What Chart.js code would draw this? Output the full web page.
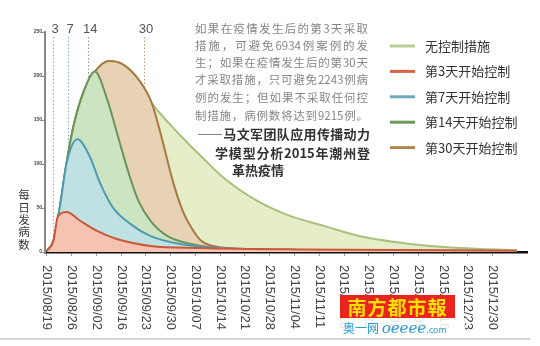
<!DOCTYPE html>
<html lang="zh-CN">
<head>
<meta charset="utf-8">
<script src="https://cdn.jsdelivr.net/npm/chart.js@4.4.1/dist/chart.umd.min.js"></script>
<style>
  html, body { margin: 0; padding: 0; background: #fff; }
  #wrap { position: relative; width: 540px; height: 346px; overflow: hidden; }
  #counterChart { position: absolute; left: 0; top: 0; }
  .note { position: absolute; left: 195px; width: 173px; font-family: "Noto Sans CJK SC"; font-size: 11.5px;
          color: #858585; line-height: 14px; text-align: justify; text-align-last: justify; white-space: nowrap; }
  .src { position: absolute; font-family: "Noto Sans CJK SC"; font-size: 13px; font-weight: bold; color: #333;
         line-height: 16px; text-align: justify; text-align-last: justify; white-space: nowrap; }
  #bottomLine { position: absolute; left: 0; top: 338px; width: 530px; height: 2px; background: #d4d4d4; }
  #logo { position: absolute; left: 340px; top: 295px; width: 115px; height: 23px; background: #e8241c;
          color: #ffe100; font-family: "Noto Sans CJK SC"; font-weight: bold; font-size: 19px; line-height: 23px;
          text-align: center; letter-spacing: 1px; }
  #site { position: absolute; left: 338px; top: 318px; width: 122px; height: 19px; background: rgba(255,255,255,0.85);
          color: #2a9bd3; font-family: "Noto Sans CJK SC"; font-size: 12px; line-height: 19px; padding-left: 5px; }
  #site i { font-family: "DejaVu Serif"; font-size: 15px; }
  #site small { font-size: 9px; }
</style>
</head>
<body>
<div id="wrap">
  <canvas id="counterChart" width="540" height="346"></canvas>

  <div class="note" style="top:21px">如果在疫情发生后的第3天采取</div>
  <div class="note" style="top:38px">措施，可避免6934例案例的发</div>
  <div class="note" style="top:55px">生；如果在疫情发生后的第30天</div>
  <div class="note" style="top:72px">才采取措施，只可避免2243例病</div>
  <div class="note" style="top:90px">例的发生；但如果不采取任何控</div>
  <div class="note" style="top:108px">制措施，病例数将达到9215例。</div>
  <div class="src" style="top:126px;left:197px;width:173px">——马文军团队应用传播动力</div>
  <div class="src" style="top:145px;left:215px;width:155px">学模型分析2015年潮州登</div>
  <div class="src" style="top:162px;left:232px">革热疫情</div>

  <div id="bottomLine"></div>
  <div id="logo">南方都市報</div>
  <div id="site">奥一网 <i>oeeee</i><small>.com</small></div>
</div>

<script>
// подписи по оси X (недели) и их положение в днях
var weekLabels = ['2015/08/19', '2015/08/26', '2015/09/02', '2015/09/16', '2015/09/23', '2015/09/30',
    '2015/10/07', '2015/10/14', '2015/10/21', '2015/10/28', '2015/11/04', '2015/11/11', '2015/11/18',
    '2015/11/25', '2015/12/02', '2015/12/09', '2015/12/16', '2015/12/23', '2015/12/30'];
var weekDays = [0, 7, 14, 21, 28, 35, 42, 49, 56, 63, 70, 77, 84, 91, 98, 105, 112, 119, 126];

var seriesNames = ['无控制措施', '第3天开始控制', '第7天开始控制', '第14天开始控制', '第30天开始控制'];

// без мер контроля
var noControlDays = [0, 1.9, 3.7, 5.6, 7.5, 10.4, 13.6, 17.5, 21.6, 26.3, 29.7, 32.8, 34.8, 40.5, 43.3, 49.8, 59.5, 68.7, 78.1, 88.5, 105.5, 116.7, 132.8];
var noControlValues = [1, 13, 51, 101, 142, 182, 205, 217, 213, 194, 169, 154, 145, 121, 110, 85, 58, 41, 30, 18, 8, 4.6, 2];

// контроль с 3-го дня
var day3Days = [0, 1.9, 3.1, 5.6, 9.4, 14.2, 19.8, 29.2, 43.3, 71.6, 132.8];
var day3Values = [1, 13, 40, 45.5, 35.5, 24, 14.7, 6.9, 4.6, 2.9, 1.5];

// контроль с 7-го дня
var day7Days = [0, 1.9, 3.7, 5.6, 8.7, 12.2, 15.1, 18.7, 23.6, 29.2, 37.7, 48.9, 71.6, 132.8];
var day7Values = [1, 13, 51, 101, 128, 108, 78, 50.5, 32, 18.3, 9, 4.6, 2.3, 1];

// контроль с 14-го дня
var day14Days = [0, 1.9, 3.7, 5.6, 7.5, 10.4, 13.6, 17.1, 20.0, 23.2, 25.9, 29.5, 34.0, 40.5, 51.8, 71.6, 132.8];
var day14Values = [1, 13, 51, 101, 142, 182, 205, 173, 133, 89, 58, 34.5, 18.3, 9.3, 3.4, 2.3, 1];

// контроль с 30-го дня
var day30Days = [0, 1.9, 3.7, 5.6, 7.5, 10.4, 13.6, 17.5, 21.6, 26.3, 29.7, 32.4, 35.8, 38.6, 40.5, 43.3, 49.6, 57.2, 71, 98.6, 132.8];
var day30Values = [1, 13, 51, 101, 142, 182, 205, 217, 213, 194, 169, 131, 78, 45, 30, 14, 5, 3, 2, 1, 0.5];

// вертикальные пунктирные отметки
var markerLabels = ['3', '7', '14', '30'];
var markerDays = [1.8, 6.0, 11.7, 27.5];
var markerColors = ['#e4927c', '#7db3c6', '#8fa282', '#bb9c74'];

var lineColors = ['#a9c07c', '#c9573a', '#4e9bb0', '#6a9458', '#a67a40'];
var fillColors = ['#e6edc9', '#f5c3b2', '#bfe1e1', '#cde4c3', '#e8d2b6'];
var legendColors = ['#b8cc94', '#d96446', '#6aaabb', '#6a9a5c', '#b0884e'];

function pts(days, values) {
    return days.map(function (d, i) { return {x: d, y: values[i]}; });
}

var allDays = [noControlDays, day3Days, day7Days, day14Days, day30Days];
var allValues = [noControlValues, day3Values, day7Values, day14Values, day30Values];
var drawOrder = [4, 0, 1, 2, 3];

var datasets = seriesNames.map(function (name, i) {
    return {
        label: name,
        data: pts(allDays[i], allValues[i]),
        borderColor: lineColors[i],
        backgroundColor: fillColors[i],
        borderWidth: 2,
        fill: 'origin',
        pointRadius: 0,
        cubicInterpolationMode: 'monotone',
        order: drawOrder[i]
    };
});

var markerPlugin = {
    id: 'markers',
    beforeDatasetsDraw: function (chart) {
        var ctx = chart.ctx, xs = chart.scales.x, area = chart.chartArea;
        ctx.save();
        ctx.setLineDash([1.5, 2]);
        ctx.lineWidth = 1;
        markerDays.forEach(function (d, i) {
            var px = Math.round(xs.getPixelForValue(d)) + 0.5;
            ctx.strokeStyle = markerColors[i];
            ctx.beginPath();
            ctx.moveTo(px, 37);
            ctx.lineTo(px, area.bottom);
            ctx.stroke();
        });
        ctx.restore();
    },
    afterDraw: function (chart) {
        var ctx = chart.ctx, xs = chart.scales.x;
        ctx.save();
        // цифры над отметками
        ctx.font = '13px "Liberation Sans", Arial';
        ctx.fillStyle = '#555';
        ctx.textAlign = 'center';
        ctx.textBaseline = 'middle';
        markerDays.forEach(function (d, i) {
            ctx.fillText(markerLabels[i], xs.getPixelForValue(d) + 2, 29);
        });

        // подписи оси X, повернутые по часовой стрелке
        ctx.font = '13px "Liberation Sans", Arial';
        ctx.fillStyle = '#444';
        ctx.textAlign = 'left';
        weekDays.forEach(function (d, i) {
            ctx.save();
            ctx.translate(xs.getPixelForValue(d), 265);
            ctx.rotate(Math.PI / 2);
            ctx.fillText(weekLabels[i], 0, 0);
            ctx.restore();
        });

        // заголовок оси Y столбиком
        ctx.font = '11.5px "Noto Sans CJK SC"';
        ctx.fillStyle = '#333';
        ctx.textAlign = 'center';
        '每日发病数'.split('').forEach(function (ch, i) {
            ctx.fillText(ch, 24, 195 + i * 12.3);
        });

        // легенда
        ctx.textAlign = 'left';
        ctx.font = '13px "Noto Sans CJK SC"';
        chart.data.datasets.forEach(function (ds, i) {
            var y = 46 + i * 25.4;
            ctx.strokeStyle = legendColors[i];
            ctx.lineWidth = 3;
            ctx.beginPath();
            ctx.moveTo(390, y);
            ctx.lineTo(415, y);
            ctx.stroke();
            ctx.fillStyle = '#333';
            ctx.fillText(ds.label, 425, y);
        });
        ctx.restore();
    }
};

var counterConfig = {
    type: 'line',
    data: {datasets: datasets},
    options: {
        responsive: false,
        animation: false,
        layout: {padding: {top: 32, right: 13, left: 0, bottom: 0}},
        plugins: {legend: {display: false}, tooltip: {enabled: false}},
        scales: {
            x: {
                type: 'linear',
                min: -0.5,
                max: 135.7,
                z: 1,
                afterBuildTicks: function (s) {
                    s.ticks = weekDays.map(function (v) { return {value: v}; });
                },
                afterFit: function (s) { s.height = 94; },
                ticks: {display: false},
                grid: {drawOnChartArea: false, tickLength: 4, color: '#999'},
                border: {color: '#111', width: 2.5}
            },
            y: {
                min: 0,
                max: 250,
                afterFit: function (s) { s.width = 45; },
                ticks: {stepSize: 50, padding: 0, color: '#444', font: {size: 5, weight: 'bold'}},
                grid: {drawOnChartArea: false, tickLength: 3, color: '#888'},
                border: {color: '#8a8a8a', width: 2}
            }
        }
    },
    plugins: [markerPlugin]
};

var counterChart = new Chart(document.getElementById('counterChart'), counterConfig);
</script>
</body>
</html>
